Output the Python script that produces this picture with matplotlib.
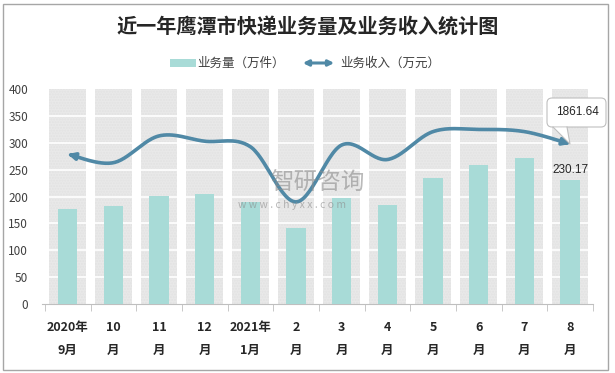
import numpy as np
import matplotlib.pyplot as plt
from matplotlib.patches import Rectangle, FancyArrowPatch, FancyBboxPatch, Polygon

plt.rcParams['font.family'] = ['Noto Sans CJK SC', 'DejaVu Sans']

# data
months = ['2020年\n9月', '10\n月', '11\n月', '12\n月', '2021年\n1月', '2\n月',
          '3\n月', '4\n月', '5\n月', '6\n月', '7\n月', '8\n月']
volume = [176, 182, 201, 205, 190, 141, 198, 185, 234, 258, 271, 230.17]      # 万件
income = [1744, 1644, 1956, 1894, 1830, 1188, 1850, 1681, 2006, 2031, 2006, 1861.64]  # 万元

bar_color = '#a8dbd7'
line_color = '#5089a6'
back_color = '#e9e9e9'


def smooth(x, y, n=30):
    # catmull-rom style smoothing, like excel's smoothed line
    x = np.asarray(x, float)
    y = np.asarray(y, float)
    px = np.concatenate([[x[0]], x, [x[-1]]])
    py = np.concatenate([[y[0]], y, [y[-1]]])
    xs, ys = [], []
    for i in range(1, len(px) - 2):
        t = np.linspace(0, 1, n, endpoint=False)
        for p, out in ((px, xs), (py, ys)):
            p0, p1, p2, p3 = p[i - 1], p[i], p[i + 1], p[i + 2]
            c1 = p1 + (p2 - p0) / 6
            c2 = p2 - (p3 - p1) / 6
            out.extend((1 - t) ** 3 * p1 + 3 * (1 - t) ** 2 * t * c1 + 3 * (1 - t) * t ** 2 * c2 + t ** 3 * p2)
    xs.append(x[-1])
    ys.append(y[-1])
    return np.array(xs), np.array(ys)


fig = plt.figure(figsize=(6.15, 3.73), dpi=100)
ax = fig.add_axes([0.073, 0.185, 0.891, 0.576])
x = np.arange(len(months))

# grey background columns
ax.bar(x, [400] * len(x), width=0.8, color=back_color, hatch='......', edgecolor='#e2e2e2',
       linewidth=0, zorder=1)
ax.set_axisbelow(False)
for yv in range(50, 400, 50):
    ax.axhline(yv, color='white', lw=1.2, zorder=2)
ax.bar(x, volume, width=0.42, color=bar_color, zorder=3)
ax.text(x[-1], volume[-1] + 8, '230.17', ha='center', va='bottom', fontsize=8.5,
        color='#262626', family=['Liberation Sans', 'DejaVu Sans'], zorder=5)

ax.set_xlim(-0.5, len(x) - 0.5)
ax.set_ylim(0, 400)
ax.set_yticks(range(0, 401, 50))
ax.tick_params(axis='y', length=0, labelsize=8.5, labelcolor='#404040', pad=12)
ax.set_xticks(x)
ax.set_xticklabels(months, fontsize=9, fontweight='bold', color='#262626', linespacing=2.0)
ax.set_xticks(np.arange(-0.5, len(x), 1), minor=True)
ax.tick_params(axis='x', which='major', length=0, pad=12)
ax.tick_params(axis='x', which='minor', length=5, color='#bfbfbf')
for s in ['left', 'right', 'top']:
    ax.spines[s].set_visible(False)
ax.spines['bottom'].set_color('#bfbfbf')
ax.spines['bottom'].set_bounds(-0.57, len(x) - 0.5)

# income on a hidden secondary axis
ax2 = ax.twinx()
ax2.set_ylim(0, 2500)
ax2.axis('off')
sx, sy = smooth(x, income)
ax2.plot(sx[3:-3], sy[3:-3], color=line_color, lw=2.6, solid_capstyle='butt', zorder=4)
ax2.annotate('', xy=(sx[0], sy[0]), xytext=(sx[4], sy[4]),
             arrowprops=dict(arrowstyle='-|>', color=line_color, lw=2.6, mutation_scale=10,
                             shrinkA=0, shrinkB=0))
ax2.annotate('', xy=(sx[-1], sy[-1]), xytext=(sx[-5], sy[-5]),
             arrowprops=dict(arrowstyle='-|>', color=line_color, lw=2.6, mutation_scale=10,
                             shrinkA=0, shrinkB=0))

# callout for last income value
box = FancyBboxPatch((547, 373 - 127), 59, 29, boxstyle='round,pad=0,rounding_size=5',
                     transform=None, facecolor='white', edgecolor='#bfbfbf', lw=0.8, zorder=6)
fig.patches.append(box)
tail = Polygon([(553, 373 - 127.5), (567, 373 - 127.5), (570, 373 - 144)], closed=True,
               transform=None, facecolor='white', edgecolor='none', zorder=7)
fig.patches.append(tail)
fig.lines.append(plt.Line2D([553, 570, 567], [373 - 127, 373 - 144, 373 - 127], color='#bfbfbf',
                            lw=0.8, transform=None, zorder=8))
fig.text(577 / 615, 1 - 112 / 373, '1861.64', ha='center', va='center', fontsize=8.5,
         color='#262626', family=['Liberation Sans', 'DejaVu Sans'], zorder=9)

# title and legend
fig.text(0.5, 1 - 27 / 373, '近一年鹰潭市快递业务量及业务收入统计图', ha='center', va='center',
         fontsize=14.5, fontweight='bold', color='#262626')
fig.patches.append(Rectangle((170 / 615, 1 - 67 / 373), 26 / 615, 8 / 373, transform=fig.transFigure,
                             facecolor=bar_color, edgecolor='none'))
fig.text(197 / 615, 1 - 63 / 373, '业务量（万件）', ha='left', va='center', fontsize=9, color='#404040')
fig.patches.append(FancyArrowPatch((300 / 615, 1 - 63 / 373), (337 / 615, 1 - 63 / 373),
                                   transform=fig.transFigure, arrowstyle='<|-|>', color=line_color,
                                   lw=2.2, mutation_scale=8))
fig.text(340 / 615, 1 - 63 / 373, '业务收入（万元）', ha='left', va='center', fontsize=9, color='#404040')

# watermark
fig.text(270 / 615, 1 - 183 / 373, '智研咨询', ha='left', va='center', fontsize=17,
         color='#8c8c8c', alpha=0.6, zorder=10)
fig.text(238 / 615, 1 - 205 / 373, 'w w w . c h y x x . c o m', ha='left', va='center', fontsize=7.5,
         color='#8c8c8c', alpha=0.6, zorder=10)

# outer frame
fig.patches.append(Rectangle((3 / 615, 3 / 373), 605 / 615, 366 / 373, transform=fig.transFigure,
                             facecolor='none', edgecolor='#a6a6a6', lw=1))

fig.savefig('out.png', dpi=100)
